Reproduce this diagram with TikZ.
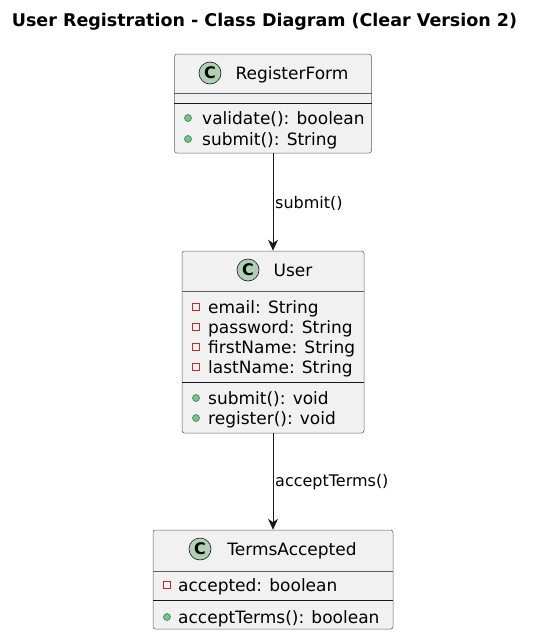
\documentclass[tikz,border=0pt]{standalone}
\usepackage{fontspec}
\setmainfont{DejaVu Sans}
\usepackage{xcolor}
\usepackage{tikz}
\usetikzlibrary{arrows.meta}
\definecolor{boxfill}{HTML}{F1F1F1}
\definecolor{boxline}{HTML}{181818}
\definecolor{cfill}{HTML}{ADD1B2}
\definecolor{privred}{HTML}{C82930}
\definecolor{pubgreen}{HTML}{038048}
\definecolor{pubfill}{HTML}{84BE84}

\begin{document}
\begin{tikzpicture}[x=1pt,y=-1pt,
    classbox/.style={draw=boxline!70, fill=boxfill, rounded corners=2.5pt, line width=0.5pt, inner sep=0pt},
    badge/.style={circle, draw=boxline, fill=cfill, line width=0.6pt, minimum size=22pt, inner sep=0pt, font=\fontsize{16}{16}\selectfont\bfseries},
    cname/.style={anchor=base, inner sep=0pt, font=\fontsize{17}{20}\selectfont},
    member/.style={anchor=base west, inner sep=0pt, font=\fontsize{17}{20}\selectfont},
    pub/.style={circle, draw=pubgreen, fill=pubfill, minimum size=7pt, inner sep=0pt, line width=0.5pt},
    priv/.style={rectangle, draw=privred, minimum size=7pt, inner sep=0pt, line width=0.6pt},
    sep/.style={draw=boxline!70, line width=0.5pt},
    thicksep/.style={draw=boxline, line width=0.8pt},
    flow/.style={-{Stealth[length=11pt,width=10pt,inset=3.5pt]}, line width=1pt, draw=boxline},
    flowlabel/.style={anchor=base west, inner sep=0pt, font=\fontsize{16}{19}\selectfont}]
    \useasboundingbox (0,0) rectangle (538,637);

    \node [anchor=base, inner sep=0pt, font=\fontsize{17.5}{20}\selectfont\bfseries] (title) at (264.5,26) {User Registration - Class Diagram (Clear Version 2)};

    % RegisterForm
    \node [classbox, minimum width=197pt, minimum height=99pt] (registerform) at (273,103.5) {};
    \node [badge] (registerformC) at (210,73) {C};
    \node [cname] (registerformName) at (292,79) {RegisterForm};
    \draw [sep] (registerform.west |- 0,93) -- (registerform.east |- 0,93);
    \draw [thicksep] (registerform.west |- 0,103) -- (registerform.east |- 0,103);
    \node [pub] (registerformB1) at (188,118) {};
    \node [member] (registerformM1) at (202,124.5) {validate(): boolean};
    \node [pub] (registerformB2) at (188,139) {};
    \node [member] (registerformM2) at (202,145.5) {submit(): String};

    % User
    \node [classbox, minimum width=182pt, minimum height=182pt] (user) at (273,342) {};
    \node [badge] (userC) at (248,270) {C};
    \node [cname] (userName) at (293,276) {User};
    \draw [sep] (user.west |- 0,291) -- (user.east |- 0,291);
    \node [priv] (userB1) at (196,307) {};
    \node [member] (userA1) at (208,313.5) {email: String};
    \node [priv] (userB2) at (196,327) {};
    \node [member] (userA2) at (208,333.5) {password: String};
    \node [priv] (userB3) at (196,347) {};
    \node [member] (userA3) at (208,353.5) {firstName: String};
    \node [priv] (userB4) at (196,367) {};
    \node [member] (userA4) at (208,373.5) {lastName: String};
    \draw [thicksep] (user.west |- 0,382) -- (user.east |- 0,382);
    \node [pub] (userB5) at (196,398) {};
    \node [member] (userM1) at (208,404.5) {submit(): void};
    \node [pub] (userB6) at (196,418) {};
    \node [member] (userM2) at (208,424.5) {register(): void};

    % TermsAccepted
    \node [classbox, minimum width=240pt, minimum height=99pt] (terms) at (273,579.5) {};
    \node [badge] (termsC) at (200,549) {C};
    \node [cname] (termsName) at (292,555) {TermsAccepted};
    \draw [sep] (terms.west |- 0,571) -- (terms.east |- 0,571);
    \node [priv] (termsB1) at (167,585) {};
    \node [member] (termsA1) at (178,591.5) {accepted: boolean};
    \draw [thicksep] (terms.west |- 0,600) -- (terms.east |- 0,600);
    \node [pub] (termsB2) at (167,617) {};
    \node [member] (termsM1) at (178,623.5) {acceptTerms(): boolean};

    % connectors
    \draw [flow] (registerform.south) -- (user.north);
    \node [flowlabel] (submitLabel) at (275,208) {submit()};
    \draw [flow] (user.south) -- (terms.north);
    \node [flowlabel] (acceptLabel) at (275,486) {acceptTerms()};
\end{tikzpicture}
\end{document}
